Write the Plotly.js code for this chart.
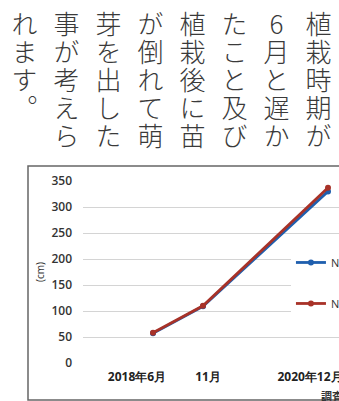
<!DOCTYPE html>
<html>
<head>
<meta charset="utf-8">
<script src="https://cdn.plot.ly/plotly-3.0.1.min.js"></script>
<style>
  html, body { margin: 0; padding: 0; width: 339px; height: 401px; overflow: hidden; background: #fff; }
  #chart { position: absolute; left: 0; top: 0; width: 400px; height: 401px; }
  #paraClip { position: absolute; left: 0; top: 0; width: 339px; height: 152px; overflow: hidden; }
  #para {
    position: absolute; right: 0; top: 0; height: 400px; width: 339px;
    writing-mode: vertical-rl; text-orientation: upright;
    font-family: "Noto Sans CJK JP", sans-serif; font-size: 26px; font-weight: 300;
    line-height: 42px; letter-spacing: 2px; color: #3a3a3a;
    padding-top: 11px; box-sizing: border-box;
  }
</style>
</head>
<body>
<div id="chart"></div>
<div id="paraClip"><div id="para"></div></div>
<script>
// paragraph columns (vertical Japanese text, right to left)
const paragraphColumns = [
  '植栽時期が',
  '6月と遅かっ',
  'たこと及び',
  '植栽後に苗',
  'が倒れて萌',
  '芽を出した',
  '事が考えら',
  'れます。'
];

// chart data
const surveyLabels = ['2018年6月', '11月', '2020年12月'];
const surveySlot = [0, 2, 7];          // position of each survey on the category axis
const labelSlot = [-0.64, 2.2, 6.28];  // where the labels sit on that axis
const seriesNames = ['No.1', 'No.2'];
const heightNo1 = [57, 109, 330];
const heightNo2 = [58, 110, 337];
const yTicks = [0, 50, 100, 150, 200, 250, 300, 350];

document.getElementById('para').innerHTML = paragraphColumns.join('<br>');

const blue = '#1f5fae';
const red = '#a83228';

const traces = [
  {
    x: surveySlot, y: heightNo1, name: seriesNames[0], legendgroup: 'a',
    type: 'scatter', mode: 'lines+markers', cliponaxis: false,
    line: { color: blue, width: 2.8 }, marker: { color: blue, size: 6 }
  },
  {
    x: surveySlot, y: heightNo2, name: seriesNames[1], legendgroup: 'b',
    type: 'scatter', mode: 'lines+markers', cliponaxis: false,
    line: { color: red, width: 2.8 }, marker: { color: red, size: 6 }
  }
];

const layout = {
  width: 400, height: 401,
  margin: { l: 83, r: 0, t: 181, b: 38 },
  paper_bgcolor: 'rgba(0,0,0,0)',
  plot_bgcolor: 'rgba(0,0,0,0)',
  font: { family: '"Open Sans", sans-serif', color: '#333' },
  showlegend: true,
  legend: {
    x: 0.656, xanchor: 'left', y: 0.632, yanchor: 'top',
    bgcolor: '#ffffff', borderwidth: 0, tracegroupgap: 22,
    itemwidth: 30, font: { size: 11, color: '#333', family: '"Open Sans", sans-serif' }
  },
  xaxis: {
    range: [-2.8, 9.88], showgrid: false, zeroline: false, showline: false,
    tickmode: 'array', tickvals: labelSlot, ticktext: surveyLabels,
    ticks: '', ticklabelstandoff: 5,
    tickfont: { size: 12, color: '#222', family: '"Open Sans", sans-serif', weight: 'bold' },
    fixedrange: true
  },
  yaxis: {
    range: [0, 350], tickmode: 'array', tickvals: yTicks,
    showgrid: true, gridcolor: '#d4d4d4', gridwidth: 1, zeroline: false, showline: false,
    ticks: '', ticklabelstandoff: 10,
    tickfont: { size: 12, color: '#333', family: '"Open Sans", sans-serif', weight: 600 },
    title: { text: '(cm)', font: { size: 10, color: '#333' }, standoff: 4 },
    fixedrange: true
  },
  shapes: [
    {
      type: 'rect', xref: 'paper', yref: 'paper', layer: 'below',
      x0: -0.1735, x1: 1.2, y0: -0.203, y1: 1.082,
      line: { color: '#666', width: 1.5 }, fillcolor: 'rgba(0,0,0,0)'
    }
  ],
  annotations: [
    {
      text: '調査時期', xref: 'paper', yref: 'paper', x: 0.7445, y: -0.181,
      xanchor: 'left', yanchor: 'middle', showarrow: false,
      font: { size: 11, color: '#333', family: '"Noto Sans CJK JP", sans-serif', weight: 'bold' }
    }
  ]
};

Plotly.newPlot('chart', traces, layout, { staticPlot: true, displayModeBar: false });
</script>
</body>
</html>
